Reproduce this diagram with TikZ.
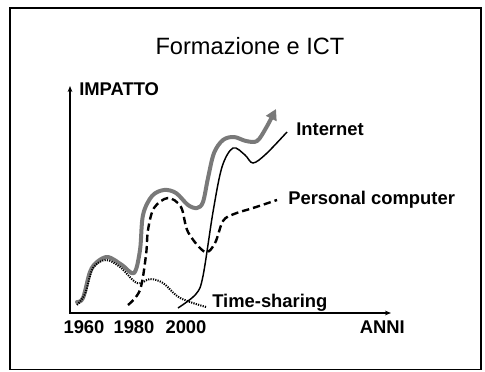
\documentclass[tikz,border=0pt]{standalone}
\usepackage{fontspec}
\setmainfont{Liberation Sans}
\usetikzlibrary{arrows.meta}
\tikzset{
  frame/.style={draw=black, line width=0.8pt},
  axis/.style={line width=1.5pt, {Stealth[length=4.5pt,width=3.5pt]}-{Stealth[length=4.5pt,width=3.5pt]}},
  lbl/.style={font=\fontsize{13.8}{16}\selectfont\bfseries, inner sep=0pt},
  trend/.style={draw=gray!95!black, line width=3pt, line cap=round, line join=round,
    -{Triangle[length=8pt,width=8.5pt]}},
  inet/.style={line width=1.1pt},
  pc/.style={line width=1.8pt, dash pattern=on 5.5pt off 3pt},
  ts/.style={line width=1.5pt, dash pattern=on 0.9pt off 0.9pt},
}
\begin{document}
\begin{tikzpicture}[x=0.75pt, y=-0.75pt]
\useasboundingbox (0,0) rectangle (485,371);
% outer frame
\draw[frame] (10,8) rectangle (481,369.5);
% title
\node[anchor=base, inner sep=0pt, font=\fontsize{17.7}{20}\selectfont] (title) at (250,54) {Formazione e ICT};
% axes
\coordinate (ytop) at (70,86);
\coordinate (O) at (70,313);
\coordinate (xend) at (391,313);
\draw[axis] (ytop) -- (O) -- (xend);
\node[lbl, anchor=base west] (ylabel) at (79,95) {IMPATTO};
\node[lbl, anchor=base east] (xlabel) at (405,333) {ANNI};
\node[lbl, anchor=base] (y1960) at (84,333) {1960};
\node[lbl, anchor=base] (y1980) at (134,333) {1980};
\node[lbl, anchor=base] (y2000) at (186,333) {2000};
% overall trend
\draw[trend] plot[smooth, tension=0.55] coordinates {
  (77,302) (83,298) (90,272) (97,262) (108,257) (122,265) (134,273)
  (140,250) (143,215) (152,196) (164,190) (176,193) (188,205) (197,208)
  (203,202) (208,178) (214,153) (223,140) (234,137) (246,141) (257,141)
  (266,128) (276,109)};
% Time-sharing
\draw[ts] plot[smooth, tension=0.55] coordinates {
  (77,305) (85,294) (93,268) (106,260) (120,267) (137,283) (150,279)
  (163,283) (177,296) (190,302) (206,307)};
% Personal computer
\draw[pc] plot[smooth, tension=0.55] coordinates {
  (128,305) (140,290) (146,255) (148,230) (154,208) (168,198) (181,207)
  (188,232) (205,252) (215,243) (223,221) (234,214) (253,208) (277,200)};
% Internet
\draw[inet] plot[smooth, tension=0.55] coordinates {
  (178,308) (196,294) (203,276) (213,212) (222,167) (233,148) (245,155)
  (253,163) (266,154) (287,132)};
% curve labels
\node[lbl, anchor=base west] (lInternet) at (296,135) {Internet};
\node[lbl, anchor=base west] (lPC) at (288,204) {Personal computer};
\node[lbl, anchor=base west] (lTS) at (212,307) {Time-sharing};
\end{tikzpicture}
\end{document}
